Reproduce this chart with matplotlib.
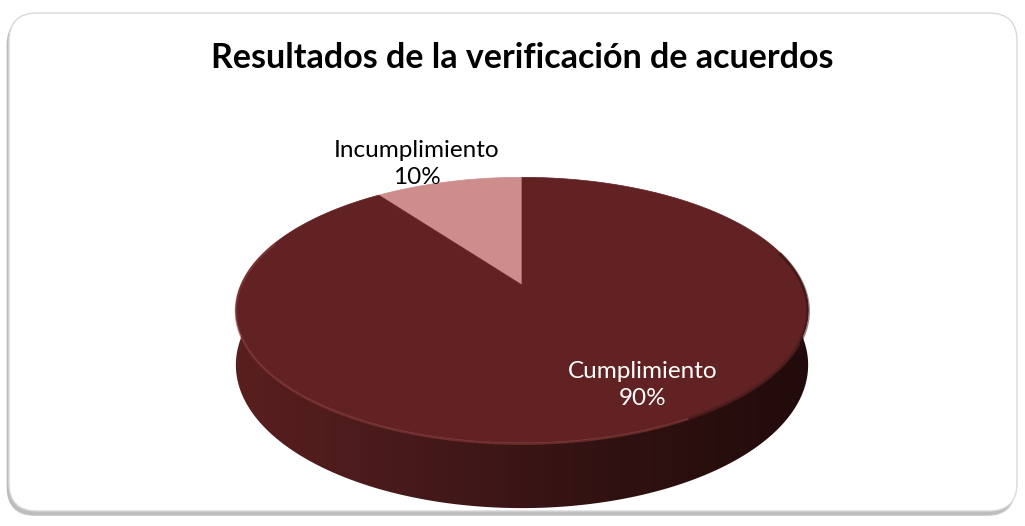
import matplotlib
matplotlib.use('Agg')
import matplotlib.pyplot as plt
from matplotlib.patches import FancyBboxPatch, Polygon
from matplotlib.colors import LinearSegmentedColormap
import numpy as np

# data
labels = ['Cumplimiento', 'Incumplimiento']
values = [90, 10]
top_colors = ['#622223', '#CD8D8D']
label_colors = ['white', 'black']
title = 'Resultados de la verificación de acuerdos'

plt.rcParams['font.family'] = ['Lato', 'DejaVu Sans']

# pie geometry (pixels, y grows downward)
cx, cy = 522, 285
rx, ry = 281, 128
depth = 5.3      # perspective distance
height = 53      # wall thickness at the centre line


def project(theta_deg, drop=0.0):
    t = np.radians(theta_deg)
    X, Z = np.cos(t), np.sin(t)
    s = depth / (depth + Z)
    return cx + rx * X * s, cy - ry * Z * s + drop * s


fig = plt.figure(figsize=(10.25, 5.26), dpi=100)
ax = fig.add_axes([0, 0, 1, 1])
ax.set_xlim(0, 1025)
ax.set_ylim(526, 0)
ax.axis('off')

# chart frame with soft shadow
for off, col in [(4, '#d0d0d0'), (2, '#bdbdbd')]:
    ax.add_patch(FancyBboxPatch((6 + off * 0.3, 16 + off * 0.5), 1008, 498,
                                boxstyle='round,pad=0,rounding_size=28',
                                fc=col, ec='none', zorder=0))
ax.add_patch(FancyBboxPatch((9, 13), 1008, 498,
                            boxstyle='round,pad=0,rounding_size=28',
                            fc='white', ec='#d9d9d9', lw=1, zorder=1))

ax.text(cx, 58, title, ha='center', va='center', fontsize=24.5,
        fontweight='bold', color='black', zorder=5)

# wedge angles: start at 12 o'clock, Incumplimiento sweeps to the left
fracs = np.array(values, dtype=float) / sum(values)
inc_span = 360 * fracs[1]
spans = {1: (90, 90 + inc_span), 0: (90 + inc_span, 450)}

# side wall (front half), shaded left to right with a clipped gradient
ts = np.linspace(180, 360, 361)
xt, yt = project(ts)
xb, yb = project(ts[::-1], height)
wall = Polygon(np.column_stack([np.r_[xt, xb], np.r_[yt, yb]]), closed=True,
               fc='none', ec='none', zorder=2)
ax.add_patch(wall)
wall_cmap = LinearSegmentedColormap.from_list(
    'wall', ['#5a1f1f', '#45191a', '#301111', '#220b0b'])
grad = np.linspace(0, 1, 256).reshape(1, -1)
img = ax.imshow(grad, cmap=wall_cmap, aspect='auto', zorder=2,
                extent=[cx - rx - 10, cx + rx + 10, yb.max() + 2, yt.min() - 2],
                interpolation='bilinear')
img.set_clip_path(wall)
ax.set_xlim(0, 1025)
ax.set_ylim(526, 0)

# top faces
for i, (a0, a1) in spans.items():
    th = np.linspace(a0, a1, 300)
    xs, ys = project(th)
    pts = np.column_stack([np.r_[cx, xs], np.r_[cy, ys]])
    ax.add_patch(Polygon(pts, closed=True, fc=top_colors[i],
                         ec=top_colors[i], lw=0.5, zorder=3))

# faint bevel highlight along the front rim
th = np.linspace(160, 335, 300)
xs, ys = project(th)
ax.plot(xs, ys + 1, color='#8c3c3c', lw=1.6, alpha=0.6, zorder=4)
th = np.linspace(300, 375, 100)
xs, ys = project(th)
ax.plot(xs, ys + 1, color='#2a0d0d', lw=2.5, alpha=0.5, zorder=4)

# data labels
ax.text(417, 164, f'{labels[1]}\n{values[1]}%', ha='center', va='center',
        fontsize=17.5, color=label_colors[1], linespacing=1.3, zorder=6)
ax.text(643, 385, f'{labels[0]}\n{values[0]}%', ha='center', va='center',
        fontsize=17.5, color=label_colors[0], linespacing=1.3, zorder=6)

fig.savefig('out.png', dpi=100)
